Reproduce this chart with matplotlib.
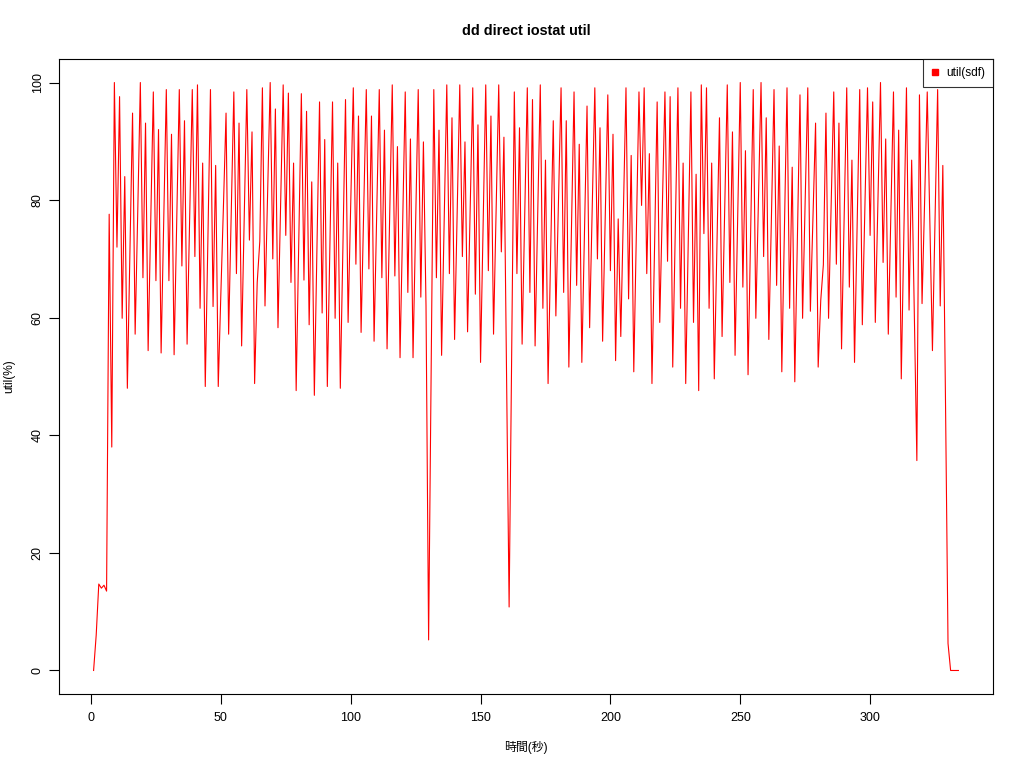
import matplotlib
matplotlib.use("Agg")
import matplotlib.pyplot as plt
from matplotlib.lines import Line2D

plt.rcParams["font.family"] = ["Liberation Sans", "Noto Sans CJK JP", "DejaVu Sans"]

# seconds 1..334, util(%) of sdf
util_sdf = [
    0, 6, 14.7, 14.0, 14.5, 13.5, 77.6, 38.0, 100, 72.0,
    97.6, 59.9, 84.0, 48.0, 71, 94.8, 57.2, 78, 100, 66.8,
    93.1, 54.4, 76, 98.4, 66.3, 92.0, 54.0, 76, 98.8, 66.3,
    91.2, 53.7, 76, 98.8, 68.8, 93.5, 55.5, 77, 98.8, 70.4,
    99.6, 61.6, 86.3, 48.3, 73, 98.8, 61.9, 85.9, 48.3, 64,
    79, 94.8, 57.2, 78, 98.4, 67.5, 93.1, 55.2, 77, 98.8,
    73.2, 91.6, 48.8, 66, 73, 99.1, 62.0, 81, 100, 70.0,
    95.5, 58.3, 79, 99.6, 74.0, 98.2, 66.0, 86.3, 47.6, 73,
    98.1, 66.4, 95.1, 58.8, 83.1, 46.8, 72, 96.7, 60.8, 90.3,
    48.3, 72, 96.7, 59.9, 86.3, 48.0, 72, 97.1, 59.2, 79,
    99.1, 69.1, 94.3, 57.5, 78, 98.8, 68.3, 94.3, 56.0, 77,
    98.8, 66.8, 91.9, 54.7, 77, 99.6, 67.1, 89.1, 53.2, 76,
    98.4, 64.3, 90.4, 53.2, 76, 98.8, 63.5, 89.9, 62, 5.2,
    52, 98.8, 66.8, 91.9, 53.6, 77, 99.6, 67.5, 94.0, 56.3,
    78, 99.6, 70.4, 89.9, 57.6, 78, 99.1, 64.0, 92.8, 52.4,
    76, 99.6, 68.0, 94.3, 57.2, 78, 99.6, 71.2, 90.7, 50,
    10.8, 55, 98.4, 67.5, 92.3, 55.5, 77, 99.1, 64.3, 97.1,
    55.2, 77, 99.6, 61.6, 86.8, 48.8, 71, 93.5, 60.3, 80,
    99.1, 64.3, 93.5, 51.6, 75, 98.4, 65.5, 89.5, 52.4, 74,
    96.0, 58.3, 79, 99.1, 70.0, 92.3, 56.0, 77, 97.9, 68.0,
    91.2, 52.7, 76.8, 56.8, 78, 99.1, 63.2, 87.6, 50.8, 75,
    98.4, 79.1, 99.1, 67.5, 87.9, 48.8, 72, 96.7, 59.2, 79,
    98.4, 69.6, 97.6, 51.6, 75, 99.1, 61.6, 86.3, 48.8, 74,
    98.4, 59.2, 84.4, 47.6, 99.6, 74.3, 99.1, 61.6, 86.3, 49.6,
    72, 94.0, 56.8, 78, 99.6, 66.0, 91.6, 53.6, 77, 100,
    65.2, 88.4, 50.3, 75, 98.8, 59.9, 80, 100, 70.4, 94.0,
    56.3, 77, 98.8, 65.5, 89.2, 50.8, 75, 99.1, 61.6, 85.6,
    49.1, 74, 97.9, 59.9, 80, 99.1, 61.1, 77, 93.1, 51.6,
    63, 69, 94.8, 59.9, 79, 98.4, 69.1, 93.1, 54.7, 77,
    99.1, 65.2, 86.8, 52.4, 76, 98.8, 58.8, 79, 99.1, 74.0,
    96.7, 59.2, 80, 100, 69.4, 90.4, 57.2, 78, 98.4, 63.5,
    91.9, 49.6, 74, 99.1, 61.3, 86.8, 61, 35.7, 97.9, 62.4,
    80, 98.4, 76, 54.4, 77, 98.8, 62.0, 85.9, 47, 4.6,
    0, 0, 0, 0,
]
seconds = list(range(1, len(util_sdf) + 1))

x_ticks = [0, 50, 100, 150, 200, 250, 300]
y_ticks = [0, 20, 40, 60, 80, 100]

fig = plt.figure(figsize=(10.24, 7.68), dpi=100)
ax = fig.add_axes([59 / 1024, 74 / 768, 934 / 1024, 635 / 768])

ax.plot(seconds, util_sdf, color="red", linewidth=0.8)

# R-style 4% padding around the data range
span = seconds[-1] - seconds[0]
ax.set_xlim(seconds[0] - 0.04 * span, seconds[-1] + 0.04 * span)
ax.set_ylim(-4, 104)
ax.set_xticks(x_ticks)
ax.set_yticks(y_ticks)
ax.set_yticklabels([str(v) for v in y_ticks], rotation=90, va="center")
ax.tick_params(direction="out", length=7, width=0.8, labelsize=9, pad=6)
ax.tick_params(axis="y", pad=4)
for s in ax.spines.values():
    s.set_linewidth(0.8)

ax.set_title("dd direct iostat util", fontsize=10.4, fontweight="bold", pad=17)
ax.set_xlabel("時間(秒)", fontsize=8.6, labelpad=12)
ax.set_ylabel("util(%)", fontsize=8.6, labelpad=12)

handle = Line2D([], [], color="red", marker="s", linestyle="none", markersize=4)
leg = ax.legend([handle], ["util(sdf)"], loc="upper right", borderaxespad=0,
                fancybox=False, fontsize=8.6, handlelength=0.8,
                handletextpad=0.5, borderpad=0.65)
leg.get_frame().set_edgecolor("black")
leg.get_frame().set_linewidth(0.8)

fig.savefig("out.png", dpi=100)
